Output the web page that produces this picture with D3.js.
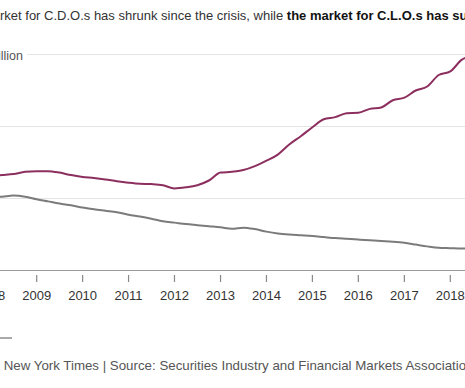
<!DOCTYPE html>
<html>
<head>
<meta charset="utf-8">
<script src="https://cdn.jsdelivr.net/npm/d3@7"></script>
<style>
  html, body { margin: 0; padding: 0; background: #fff; overflow: hidden; }
  svg { display: block; font-family: "Liberation Sans", Arial, Helvetica, sans-serif; }
</style>
</head>
<body>
<svg id="fig" width="465" height="388"></svg>
<script>
// quarterly data, $ billions outstanding
const quarters = ["2008-01","2008-04","2008-07","2008-10",
  "2009-01","2009-04","2009-07","2009-10",
  "2010-01","2010-04","2010-07","2010-10",
  "2011-01","2011-04","2011-07","2011-10",
  "2012-01","2012-04","2012-07","2012-10",
  "2013-01","2013-04","2013-07","2013-10",
  "2014-01","2014-04","2014-07","2014-10",
  "2015-01","2015-04","2015-07","2015-10",
  "2016-01","2016-04","2016-07","2016-10",
  "2017-01","2017-04","2017-07","2017-10",
  "2018-01","2018-04","2018-07"];

const cloValues = [262,265,268,274, 276,276,272,265, 260,257,253,248,
  244,241,240,237, 228,231,237,250, 272,274,279,290, 305,322,350,373,
  398,420,426,437, 438,449,453,473, 480,500,511,543, 553,585,598];

const cdoValues = [203,205,208,205, 198,192,186,181, 175,170,166,162,
  155,150,144,137, 133,129,126,123, 120,116,119,115, 108,103,100,98,
  96,93,90,88, 86,84,82,80, 77,72,67,63, 62,61,61];

const yTicks = [0, 200, 400, 600];
const yearTicks = [2008,2009,2010,2011,2012,2013,2014,2015,2016,2017,2018];

const titleLead = "The market for C.D.O.s has shrunk since the crisis, while ";
const titleBold = "the market for C.L.O.s has surged.";
const sourcePrefix = "By The ";
const sourceText = "New York Times | Source: Securities Industry and Financial Markets Association";

const parseQ = d3.timeParse("%Y-%m");
const dates = quarters.map(parseQ);

const svg = d3.select("#fig");

const xScale = d3.scaleTime()
  .domain([new Date(2009, 0, 1), new Date(2018, 0, 1)])
  .range([36.7, 450.3]);

const yScale = d3.scaleLinear()
  .domain([0, 600])
  .range([270.5, 54.5]);

// title, cropped at both sides
const title = svg.append("text")
  .attr("y", 20)
  .style("font-size", "13px")
  .attr("fill", "#333");
title.append("tspan").text(titleLead);
title.append("tspan").attr("font-weight", "bold").attr("fill", "#121212").text(titleBold);
{
  const tmp = svg.append("text").style("font-size", "13px").text("The ma");
  const w = tmp.node().getComputedTextLength();
  tmp.remove();
  title.attr("x", -w);
}

// y grid + label
const topLabel = svg.append("text")
  .attr("x", 23)
  .attr("y", yScale(600) + 5)
  .attr("text-anchor", "end")
  .style("font-size", "12.5px")
  .attr("fill", "#555")
  .text("$600 billion");
const labelLeft = 23 - topLabel.node().getComputedTextLength();

svg.append("g")
  .selectAll("line")
  .data(yTicks.filter(d => d > 0))
  .join("line")
  .attr("x1", d => d === 600 ? 27 : labelLeft)
  .attr("x2", 470)
  .attr("y1", d => yScale(d))
  .attr("y2", d => yScale(d))
  .attr("stroke", "#e4e4e4")
  .attr("stroke-width", 1.2);

svg.append("g")
  .selectAll("text")
  .data(yTicks.filter(d => d > 0 && d < 600))
  .join("text")
  .attr("x", labelLeft)
  .attr("y", d => yScale(d) + 4)
  .style("font-size", "12.5px")
  .attr("fill", "#555")
  .text(d => "$" + d);

// lines
const line = vals => d3.line()
  .x((d, i) => xScale(dates[i]))
  .y(d => yScale(d))
  .curve(d3.curveMonotoneX)(vals);

svg.append("path")
  .attr("d", line(cdoValues))
  .attr("fill", "none")
  .attr("stroke", "#7b7b7b")
  .attr("stroke-width", 2);

svg.append("path")
  .attr("d", line(cloValues))
  .attr("fill", "none")
  .attr("stroke", "#8c2f5e")
  .attr("stroke-width", 2);

// x axis
svg.append("line")
  .attr("x1", -20).attr("x2", 470)
  .attr("y1", yScale(0)).attr("y2", yScale(0))
  .attr("stroke", "#999")
  .attr("stroke-width", 1);

const xAxis = svg.append("g");
xAxis.selectAll("line")
  .data(yearTicks)
  .join("line")
  .attr("x1", d => xScale(new Date(d, 0, 1)))
  .attr("x2", d => xScale(new Date(d, 0, 1)))
  .attr("y1", 275)
  .attr("y2", 282)
  .attr("stroke", "#888")
  .attr("stroke-width", 1.2);

xAxis.selectAll("text")
  .data(yearTicks)
  .join("text")
  .attr("x", d => xScale(new Date(d, 0, 1)))
  .attr("y", 300)
  .attr("text-anchor", "middle")
  .style("font-size", "13px")
  .attr("fill", "#333")
  .text(d => d);

// footer
svg.append("line")
  .attr("x1", -8).attr("x2", 12)
  .attr("y1", 338).attr("y2", 338)
  .attr("stroke", "#555")
  .attr("stroke-width", 1);

const source = svg.append("text")
  .attr("y", 370)
  .style("font-size", "13.3px")
  .attr("fill", "#555")
  .text(sourcePrefix + sourceText);
{
  const tmp = svg.append("text").style("font-size", "13.3px").text(sourcePrefix);
  const w = tmp.node().getComputedTextLength();
  tmp.remove();
  source.attr("x", -w);
}
</script>
</body>
</html>
